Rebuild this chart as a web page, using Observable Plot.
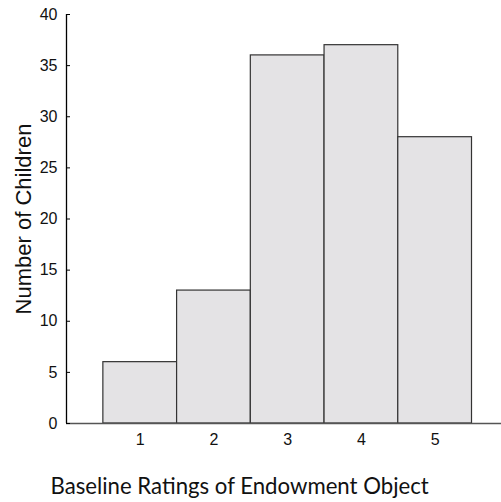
<!DOCTYPE html>
<html>
<head>
<meta charset="utf-8">
<script src="https://cdn.jsdelivr.net/npm/d3@7"></script>
<script src="https://cdn.jsdelivr.net/npm/@observablehq/plot@0.6"></script>
<style>
  html, body { margin: 0; padding: 0; background: #fff; }
</style>
</head>
<body>
<div id="chart"></div>
<script>
const ratings = [1, 2, 3, 4, 5];
const counts = [6, 13, 36, 37, 28];
const yTicks = [0, 5, 10, 15, 20, 25, 30, 35, 40];
const xLabel = "Baseline Ratings of Endowment Object";
const yLabel = "Number of Children";

const data = ratings.map((r, i) => ({rating: r, count: counts[i]}));

const chart = Plot.plot({
  width: 501,
  height: 502,
  marginLeft: 66,
  marginRight: 0,
  marginTop: 14,
  marginBottom: 79,
  style: {fontFamily: "'Liberation Sans', Arial, sans-serif", background: "#fff", color: "#111"},
  x: {type: "linear", domain: [0, 5.9]},
  y: {domain: [0, 40]},
  marks: [
    Plot.rectY(data, {
      x1: d => d.rating - 0.5,
      x2: d => d.rating + 0.5,
      y1: 0,
      y2: "count",
      fill: "#e4e3e5",
      stroke: "#333",
      strokeWidth: 1.2
    }),
    Plot.ruleY([0], {stroke: "#555", strokeWidth: 1.3}),
    Plot.ruleX([0], {stroke: "#000", strokeWidth: 1.3}),
    Plot.axisY({ticks: yTicks, tickSize: 4, dx: 4, text: null, label: null, stroke: "#000"}),
    Plot.axisY({ticks: yTicks, tickSize: 0, tickPadding: 9, fontSize: 16, label: null}),
    Plot.axisX({ticks: ratings, tickSize: 0, tickPadding: 10, fontSize: 16, label: null, tickFormat: d => String(d)}),
    Plot.text([yLabel], {
      frameAnchor: "left",
      textAnchor: "middle",
      rotate: -90,
      dx: -43,
      fontSize: 22,
      lineAnchor: "middle",
      fill: "#111"
    }),
    Plot.text([xLabel], {
      frameAnchor: "bottom-left",
      textAnchor: "start",
      dx: -16,
      dy: 63,
      lineAnchor: "middle",
      fontSize: 22.2,
      fontFamily: "Lato, 'Open Sans', sans-serif",
      fill: "#111"
    })
  ]
});
document.getElementById("chart").appendChild(chart);
</script>
</body>
</html>
